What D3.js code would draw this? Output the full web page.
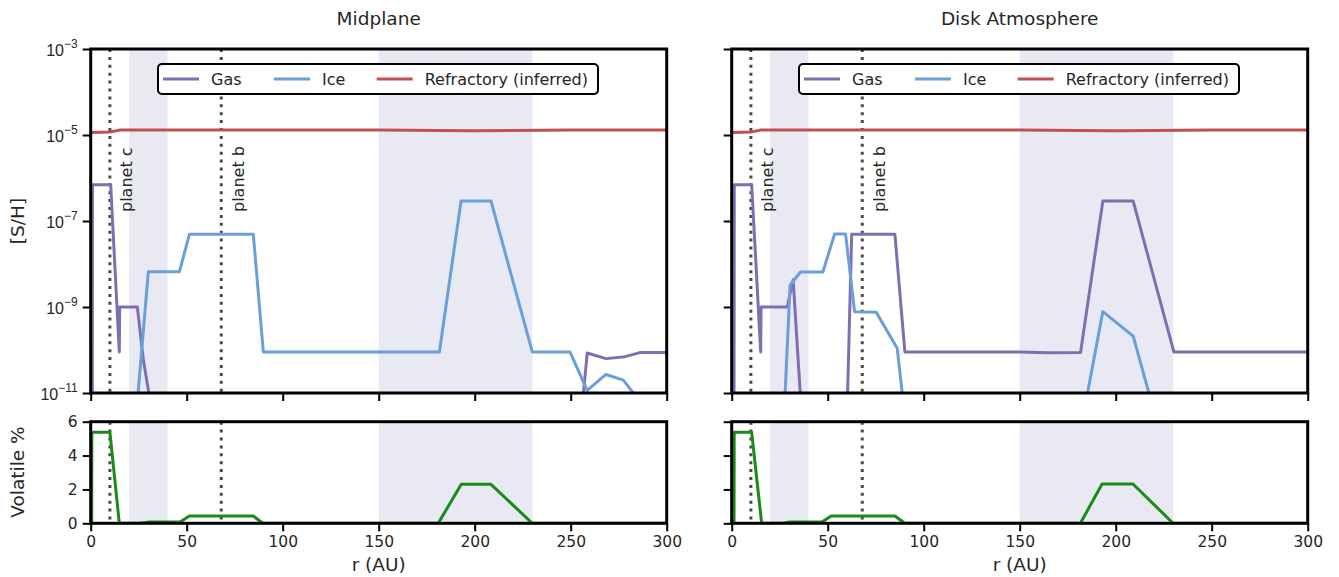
<!DOCTYPE html>
<html>
<head>
<meta charset="utf-8">
<script src="https://cdn.jsdelivr.net/npm/d3@7"></script>
<style>
  body { margin: 0; background: #fff; }
  svg { font-family: "DejaVu Sans", sans-serif; }
</style>
</head>
<body>
<svg id="chart" width="1339" height="577"></svg>
<script>
"use strict";

// ---- data ----
const panelTitles = ["Midplane", "Disk Atmosphere"];
const xTicks = [0, 50, 100, 150, 200, 250, 300];
const logTicks = [1e-11, 1e-9, 1e-7, 1e-5, 1e-3];
const logTickExp = ["−11", "−9", "−7", "−5", "−3"];
const volTicks = [0, 2, 4, 6];
const shadeBands = [[20, 40], [150, 230]];
const planets = [{ name: "planet c", r: 10 }, { name: "planet b", r: 68 }];
const legendNames = ["Gas", "Ice", "Refractory (inferred)"];

// values below 1e-11 fall off the axis (clipped)
const midGas = [[0.8, 1e-12], [0.9, 7e-7], [10.4, 7e-7], [14.9, 9e-11], [15.1, 1e-9], [24.3, 1e-9],
  [27.4, 6e-11], [34, 1e-12], [254.5, 1e-12], [258.6, 8.5e-11], [268.4, 6.3e-11], [278.3, 7e-11],
  [286, 8.7e-11], [300, 8.8e-11]];
const midIce = [[22.8, 1e-12], [30, 6.6e-9], [46.2, 6.6e-9], [51.4, 4.9e-8], [84.7, 4.9e-8],
  [89.9, 9e-11], [181.6, 9e-11], [192.9, 2.9e-7], [208.5, 2.9e-7], [230, 9e-11], [249.6, 9e-11],
  [258.6, 1.15e-11], [268.4, 2.7e-11], [277.4, 2e-11], [300, 1e-12]];
const atmGas = [[1.2, 1e-12], [1.35, 7e-7], [10.4, 7e-7], [15.1, 9e-11], [15.3, 1e-9], [28.9, 1e-9],
  [32, 4.3e-9], [37.1, 1e-12], [59.8, 1e-12], [62.5, 4.9e-8], [85, 4.9e-8], [90.2, 9e-11],
  [150, 9e-11], [165, 8.6e-11], [181.7, 8.8e-11], [193.3, 2.9e-7], [209.1, 2.9e-7],
  [230.3, 9e-11], [300, 9e-11]];
const atmIce = [[26.8, 1e-12], [30.4, 3.2e-9], [35.8, 6.5e-9], [47.5, 6.5e-9], [53.6, 5e-8],
  [59.3, 5e-8], [64, 7.8e-10], [75.3, 7.5e-10], [86.2, 1.1e-10], [91.3, 1e-12], [181.1, 1e-12],
  [193.3, 7.8e-10], [209.1, 2.1e-10], [223.5, 1e-12], [300, 1e-12]];
const refractory = [[0, 1.15e-5], [10, 1.17e-5], [15, 1.3e-5], [50, 1.3e-5], [100, 1.3e-5],
  [150, 1.3e-5], [180, 1.28e-5], [200, 1.25e-5], [220, 1.27e-5], [250, 1.3e-5], [300, 1.3e-5]];
const midVol = [[0.5, 0], [0.6, 5.37], [10, 5.37], [14.9, 0], [25, 0], [30, 0.07], [46.5, 0.07],
  [51.4, 0.43], [84.7, 0.43], [89.6, 0], [181, 0], [193, 2.3], [208.5, 2.3], [230, 0], [300, 0]];
const atmVol = [[1.2, 0], [1.3, 5.37], [10.4, 5.37], [15.6, 0], [27, 0], [29.6, 0.07], [47, 0.07],
  [51.8, 0.43], [85, 0.43], [90.2, 0], [181.6, 0], [192.9, 2.32], [209, 2.32], [229.9, 0], [300, 0]];

const colors = { gas: "#7f6fb2", ice: "#6a9fd9", ref: "#c44e52", vol: "#1a8a1a" };

// ---- layout ----
const svg = d3.select("#chart");
const topY = [49, 393];
const botY = [421.7, 523.3];
const cols = [
  { x0: 90.7, gas: midGas, ice: midIce, vol: midVol, labels: true },
  { x0: 731.7, gas: atmGas, ice: atmIce, vol: atmVol, labels: false }
];
const panelW = 576;
const yTop = d3.scaleLog().domain([1e-11, 1e-3]).range([topY[1], topY[0]]);
const yBot = d3.scaleLinear().domain([0, 6]).range([botY[1], botY[0]]);
const textCol = "#262626";

cols.forEach((c, ci) => {
  const x = d3.scaleLinear().domain([0, 300]).range([c.x0, c.x0 + panelW]);
  const g = svg.append("g");

  // clip paths
  [["top", topY], ["bot", botY]].forEach(([name, ys]) => {
    svg.append("clipPath").attr("id", `clip-${name}-${ci}`)
      .append("rect").attr("x", c.x0).attr("y", ys[0])
      .attr("width", panelW).attr("height", ys[1] - ys[0]);
  });

  const drawPanel = (ys, name) => {
    const p = g.append("g");
    const inner = p.append("g").attr("clip-path", `url(#clip-${name}-${ci})`);

    inner.selectAll("rect.band").data(shadeBands).enter().append("rect")
      .attr("x", (d) => x(d[0])).attr("width", (d) => x(d[1]) - x(d[0]))
      .attr("y", ys[0]).attr("height", ys[1] - ys[0])
      .attr("fill", "#e9e9f3");

    inner.selectAll("line.planet").data(planets).enter().append("line")
      .attr("x1", (d) => x(d.r)).attr("x2", (d) => x(d.r))
      .attr("y1", ys[0]).attr("y2", ys[1])
      .attr("stroke", "#4a4a4a").attr("stroke-width", 3)
      .attr("stroke-dasharray", "3,4.9");
    return { p, inner };
  };

  const line = (yScale) => d3.line().x((d) => x(d[0])).y((d) => yScale(d[1]));

  // top panel
  const top = drawPanel(topY, "top");
  [[c.gas, colors.gas], [c.ice, colors.ice], [refractory, colors.ref]].forEach(([data, col]) => {
    top.inner.append("path").datum(data).attr("d", line(yTop))
      .attr("fill", "none").attr("stroke", col).attr("stroke-width", 3)
      .attr("stroke-linejoin", "round");
  });

  top.p.selectAll("text.planet").data(planets).enter().append("text")
    .attr("transform", (d) => `translate(${x(d.r) + 17},212) rotate(-90)`)
    .attr("dominant-baseline", "central")
    .attr("font-size", 16).attr("fill", textCol)
    .text((d) => d.name);

  // legend
  const lg = top.p.append("g").attr("transform", `translate(${c.x0 + 67.3},64)`);
  lg.append("rect").attr("width", 440).attr("height", 30).attr("rx", 4)
    .attr("fill", "#fff").attr("stroke", "#000").attr("stroke-width", 2);
  const legCols = [colors.gas, colors.ice, colors.ref];
  const legX = [5, 116, 218.7];
  legendNames.forEach((n, i) => {
    lg.append("line").attr("x1", legX[i]).attr("x2", legX[i] + 36)
      .attr("y1", 15).attr("y2", 15).attr("stroke", legCols[i]).attr("stroke-width", 3);
    lg.append("text").attr("x", legX[i] + 48).attr("y", 15)
      .attr("dominant-baseline", "central").attr("font-size", 16).attr("fill", textCol)
      .text(n);
  });

  // bottom panel
  const bot = drawPanel(botY, "bot");
  bot.inner.append("path").datum(c.vol).attr("d", line(yBot))
    .attr("fill", "none").attr("stroke", colors.vol).attr("stroke-width", 3)
    .attr("stroke-linejoin", "round");

  // axes
  const styleAxis = (sel) => {
    sel.select(".domain").remove();
    sel.selectAll(".tick line").attr("stroke", "#000").attr("stroke-width", 2);
    sel.selectAll(".tick text").attr("fill", textCol).attr("font-size", 15.5)
      .attr("font-family", "DejaVu Sans");
  };

  g.append("g").attr("transform", `translate(0,${topY[1]})`)
    .call(d3.axisBottom(x).tickValues(xTicks).tickSize(8).tickFormat(""))
    .call(styleAxis);
  g.append("g").attr("transform", `translate(0,${botY[1]})`)
    .call(d3.axisBottom(x).tickValues(xTicks).tickSize(8).tickPadding(5).tickFormat(d3.format("d")))
    .call(styleAxis);

  const ly = g.append("g").attr("transform", `translate(${c.x0},0)`)
    .call(d3.axisLeft(yTop).tickValues(logTicks).tickSize(8).tickFormat(""))
    .call(styleAxis);
  if (c.labels) {
    ly.selectAll(".tick").append("text")
      .attr("x", -13).attr("y", 6).attr("text-anchor", "end")
      .attr("fill", textCol).attr("font-size", 16)
      .each(function (d, i) {
        const t = d3.select(this);
        t.append("tspan").text("10");
        t.append("tspan").attr("dy", -8).attr("font-size", 12).text(logTickExp[i]);
      });
  }
  g.append("g").attr("transform", `translate(${c.x0},0)`)
    .call(d3.axisLeft(yBot).tickValues(volTicks).tickSize(8).tickPadding(5)
      .tickFormat(c.labels ? d3.format("d") : ""))
    .call(styleAxis);

  // spines
  [topY, botY].forEach((ys) => {
    g.append("rect").attr("x", c.x0).attr("y", ys[0])
      .attr("width", panelW).attr("height", ys[1] - ys[0])
      .attr("fill", "none").attr("stroke", "#000").attr("stroke-width", 3);
  });

  // titles and labels
  g.append("text").attr("x", c.x0 + panelW / 2).attr("y", 25)
    .attr("text-anchor", "middle").attr("font-size", 18.5).attr("fill", textCol)
    .text(panelTitles[ci]);
  g.append("text").attr("x", c.x0 + panelW / 2).attr("y", 571)
    .attr("text-anchor", "middle").attr("font-size", 18.5).attr("fill", textCol)
    .text("r (AU)");
});

svg.append("text").attr("transform", "translate(24,221) rotate(-90)")
  .attr("text-anchor", "middle").attr("font-size", 18.5).attr("fill", textCol).text("[S/H]");
svg.append("text").attr("transform", "translate(24,472) rotate(-90)")
  .attr("text-anchor", "middle").attr("font-size", 18.5).attr("fill", textCol).text("Volatile %");
</script>
</body>
</html>
